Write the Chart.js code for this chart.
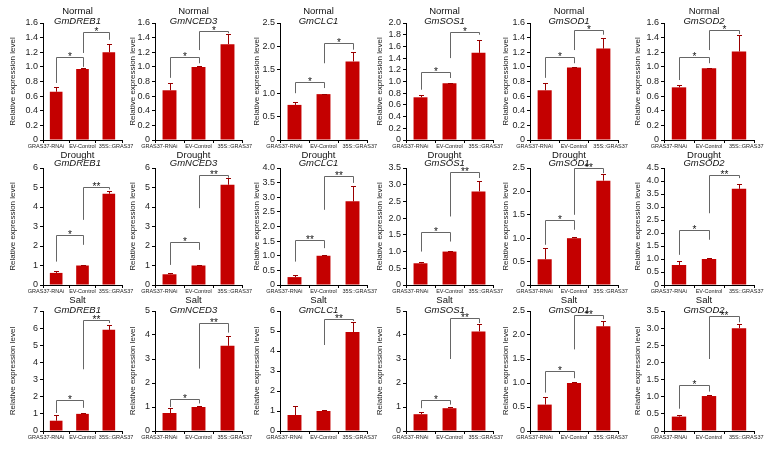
<!DOCTYPE html>
<html>
<head>
<meta charset="utf-8">
<script src="https://cdn.jsdelivr.net/npm/chart.js@4.4.1/dist/chart.umd.min.js"></script>
<style>
  html, body { margin: 0; padding: 0; background: #fff; }
  #figura { position: relative; width: 767px; height: 450px; overflow: hidden; }
  #figura canvas { position: absolute; }
</style>
</head>
<body>
<div id="figura"></div>
<script>
const categorias = ["GRAS37-RNAi", "EV-Control", "35S::GRAS37"];
const condiciones = ["Normal", "Drought", "Salt"];
const genes = ["GmDREB1", "GmNCED3", "GmCLC1", "GmSOS1", "GmSOD1", "GmSOD2"];

// Normal
const normalMedias = [
  [0.66, 0.97, 1.20], [0.68, 1.00, 1.31], [0.75, 0.98, 1.68],
  [0.73, 0.97, 1.49], [0.68, 0.99, 1.25], [0.72, 0.98, 1.21],
];
const normalErrores = [
  [0.07, 0.01, 0.11], [0.10, 0.01, 0.14], [0.06, 0.01, 0.20],
  [0.04, 0.01, 0.22], [0.10, 0.01, 0.14], [0.03, 0.01, 0.22],
];
const normalMax = [1.6, 1.6, 2.5, 2.0, 1.6, 1.6];
const normalPaso = [0.2, 0.2, 0.5, 0.2, 0.2, 0.2];
// [desde, hasta, altura, fin pata izq, fin pata der, etiqueta]
const normalSignif = [
  [[0, 1, 1.13, 0.78, 1.00, "*"], [1, 2, 1.48, 1.19, 1.37, "*"]],
  [[0, 1, 1.14, 0.85, 1.05, "*"], [1, 2, 1.49, 1.23, 1.46, "*"]],
  [[0, 1, 1.25, 1.00, 1.11, "*"], [1, 2, 2.07, 1.64, 1.93, "*"]],
  [[0, 1, 1.17, 0.86, 1.06, "*"], [1, 2, 1.84, 1.40, 1.80, "*"]],
  [[0, 1, 1.13, 0.85, 1.05, "*"], [1, 2, 1.50, 1.23, 1.44, "*"]],
  [[0, 1, 1.14, 0.82, 1.05, "*"], [1, 2, 1.51, 1.23, 1.45, "*"]],
];

// Drought
const sequiaMedias = [
  [0.62, 1.00, 4.68], [0.55, 1.00, 5.14], [0.27, 1.00, 2.86],
  [0.65, 1.00, 2.80], [0.55, 1.00, 2.23], [0.77, 1.00, 3.70],
];
const sequiaErrores = [
  [0.10, 0.03, 0.14], [0.08, 0.02, 0.34], [0.06, 0.03, 0.52],
  [0.03, 0.02, 0.32], [0.24, 0.02, 0.14], [0.16, 0.02, 0.20],
];
const sequiaMax = [6, 6, 4, 3.5, 2.5, 4.5];
const sequiaPaso = [1, 1, 0.5, 0.5, 0.5, 0.5];
const sequiaSignif = [
  [[0, 1, 2.57, 1.20, 2.06, "*"], [1, 2, 5.05, 3.34, 4.90, "**"]],
  [[0, 1, 2.23, 1.03, 1.80, "*"], [1, 2, 5.66, 3.94, 5.50, "**"]],
  [[0, 1, 1.54, 0.80, 1.26, "**"], [1, 2, 3.71, 2.57, 3.49, "**"]],
  [[0, 1, 1.58, 1.00, 1.30, "*"], [1, 2, 3.37, 2.05, 3.20, "**"]],
  [[0, 1, 1.39, 0.86, 1.18, "*"], [1, 2, 2.49, 1.50, 2.39, "**"]],
  [[0, 1, 2.12, 1.16, 1.74, "*"], [1, 2, 4.24, 2.76, 4.11, "**"]],
];

// Salt
const salMedias = [
  [0.60, 1.00, 5.90], [0.75, 1.00, 3.55], [0.80, 1.00, 4.95],
  [0.70, 0.95, 4.15], [0.55, 1.00, 2.18], [0.42, 1.02, 3.00],
];
const salErrores = [
  [0.35, 0.03, 0.30], [0.20, 0.03, 0.40], [0.45, 0.03, 0.50],
  [0.10, 0.03, 0.30], [0.15, 0.02, 0.12], [0.05, 0.03, 0.12],
];
const salMax = [7, 5, 6, 5, 2.5, 3.5];
const salPaso = [1, 1, 1, 1, 0.5, 0.5];
const salSignif = [
  [[0, 1, 1.80, 1.05, 1.35, "*"], [1, 2, 6.50, 3.60, 6.30, "**"]],
  [[0, 1, 1.35, 1.00, 1.15, "*"], [1, 2, 4.50, 2.60, 4.10, "**"]],
  [[1, 2, 5.60, 4.30, 5.50, "**"]],
  [[0, 1, 1.30, 0.95, 1.10, "*"], [1, 2, 4.70, 3.00, 4.50, "**"]],
  [[0, 1, 1.25, 0.80, 1.10, "*"], [1, 2, 2.42, 1.70, 2.33, "**"]],
  [[0, 1, 1.35, 0.65, 1.15, "*"], [1, 2, 3.35, 2.10, 3.17, "**"]],
];

const filas = [
  { medias: normalMedias, errores: normalErrores, max: normalMax, paso: normalPaso, signif: normalSignif },
  { medias: sequiaMedias, errores: sequiaErrores, max: sequiaMax, paso: sequiaPaso, signif: sequiaSignif },
  { medias: salMedias, errores: salErrores, max: salMax, paso: salPaso, signif: salSignif },
];

// geometria de la figura
const columnas = [
  { eje: 43, ancho: 79, tg: 30 }, { eje: 155, ancho: 87, tg: 22 },
  { eje: 280, ancho: 87, tg: 23 }, { eje: 406, ancho: 87, tg: 26 },
  { eje: 530, ancho: 88, tg: 24 }, { eje: 664, ancho: 90, tg: 26 },
];
const renglones = [
  { arriba: 23, abajo: 140, t1: -12, t2: -2 },
  { arriba: 168, abajo: 285, t1: -13, t2: -5 },
  { arriba: 311, abajo: 431, t1: -11, t2: -1 },
];
const YW = 40, XH = 16, PT = 26, PR = 20;
const FUENTE = "'Liberation Sans', Arial, sans-serif";
const ROJO = "#c40000";

Chart.defaults.font.family = FUENTE;
Chart.defaults.color = "#222";

const $figura = document.getElementById("figura");

function crearAnotaciones(medias, errores, signif, condicion, gen, ren) {
  return {
    id: "anotaciones",
    afterDatasetsDraw(chart) {
      const { ctx, scales: { x, y } } = chart;
      const meta = chart.getDatasetMeta(0);
      ctx.save();
      // barras de error (solo hacia arriba)
      ctx.strokeStyle = "#9a0000";
      ctx.lineWidth = 1;
      errores.forEach((e, i) => {
        const bar = meta.data[i];
        const px = Math.round(bar.x) + 0.5;
        const yTop = Math.round(y.getPixelForValue(medias[i] + e)) + 0.5;
        ctx.beginPath();
        ctx.moveTo(px, bar.y);
        ctx.lineTo(px, yTop);
        ctx.moveTo(px - 2.5, yTop);
        ctx.lineTo(px + 2.5, yTop);
        ctx.stroke();
      });
      // corchetes de significancia
      ctx.strokeStyle = "#666";
      ctx.fillStyle = "#111";
      ctx.font = "10px " + FUENTE;
      ctx.textAlign = "center";
      ctx.textBaseline = "alphabetic";
      signif.forEach(([a, b, h, fa, fb, txt]) => {
        const x1 = Math.round(x.getPixelForValue(a)) + 0.5;
        const x2 = Math.round(x.getPixelForValue(b)) + 0.5;
        const yh = Math.round(y.getPixelForValue(h)) + 0.5;
        ctx.beginPath();
        ctx.moveTo(x1, y.getPixelForValue(fa));
        ctx.lineTo(x1, yh);
        ctx.lineTo(x2, yh);
        ctx.lineTo(x2, y.getPixelForValue(fb));
        ctx.stroke();
        ctx.fillText(txt, (x1 + x2) / 2, yh + 2.5);
      });
      ctx.restore();
    },
    afterDraw(chart) {
      const { ctx, chartArea, scales: { x } } = chart;
      const cx = (chartArea.left + chartArea.right) / 2 - 5;
      ctx.save();
      ctx.fillStyle = "#111";
      ctx.textAlign = "center";
      ctx.textBaseline = "middle";
      ctx.font = "9.5px " + FUENTE;
      ctx.fillText(condicion, cx, chartArea.top + ren.t1);
      ctx.font = "italic 9.5px " + FUENTE;
      ctx.fillText(gen, cx, chartArea.top + ren.t2);
      // etiquetas de categorias
      ctx.fillStyle = "#222";
      ctx.font = "5.5px " + FUENTE;
      const yl = chartArea.bottom + 6.5;
      ctx.textAlign = "right";
      ctx.fillText(categorias[0], x.getPixelForValue(0) + 8, yl);
      ctx.textAlign = "center";
      ctx.fillText(categorias[1], x.getPixelForValue(1), yl);
      ctx.textAlign = "left";
      ctx.fillText(categorias[2], x.getPixelForValue(2) - 10, yl);
      ctx.restore();
    },
  };
}

filas.forEach((fila, r) => {
  const ren = renglones[r];
  genes.forEach((gen, c) => {
    const col = columnas[c];
    const $canvas = document.createElement("canvas");
    const ancho = YW + col.ancho + PR;
    const alto = PT + (ren.abajo - ren.arriba) + XH;
    $canvas.width = ancho;
    $canvas.height = alto;
    $canvas.style.left = (col.eje - YW) + "px";
    $canvas.style.top = (ren.arriba - PT) + "px";
    $canvas.style.width = ancho + "px";
    $canvas.style.height = alto + "px";
    $figura.appendChild($canvas);

    const paso = fila.paso[c];
    new Chart($canvas, {
      type: "bar",
      data: {
        labels: categorias,
        datasets: [
          {
            data: fila.medias[c],
            backgroundColor: ROJO,
            borderWidth: 0,
            barPercentage: 0.48,
            categoryPercentage: 1,
          },
        ],
      },
      options: {
        responsive: false,
        animation: false,
        devicePixelRatio: 1,
        layout: { padding: { top: PT, right: PR, left: 0, bottom: 0 } },
        plugins: {
          legend: { display: false },
          tooltip: { enabled: false },
        },
        scales: {
          x: {
            offset: true,
            grid: { display: true, drawOnChartArea: false, tickLength: 3, offset: true, color: "#000" },
            border: { display: true, color: "#000", width: 1 },
            ticks: { display: false },
            afterFit: (scale) => { scale.height = XH; },
          },
          y: {
            min: 0,
            max: fila.max[c],
            grid: { display: true, drawOnChartArea: false, tickLength: 3, color: "#000" },
            border: { display: true, color: "#000", width: 1 },
            ticks: {
              stepSize: paso,
              autoSkip: false,
              font: { size: 9 },
              color: "#222",
              padding: 2,
              callback: (v) => (v === 0 ? "0" : paso < 1 ? v.toFixed(1) : String(v)),
            },
            title: {
              display: true,
              text: "Relative expression level",
              font: { size: 8 },
              color: "#222",
              padding: { top: Math.max(0, YW - col.tg - 4.8), bottom: 0 },
            },
            afterFit: (scale) => { scale.width = YW; },
          },
        },
      },
      plugins: [crearAnotaciones(fila.medias[c], fila.errores[c], fila.signif[c], condiciones[r], gen, ren)],
    });
  });
});
</script>
</body>
</html>
